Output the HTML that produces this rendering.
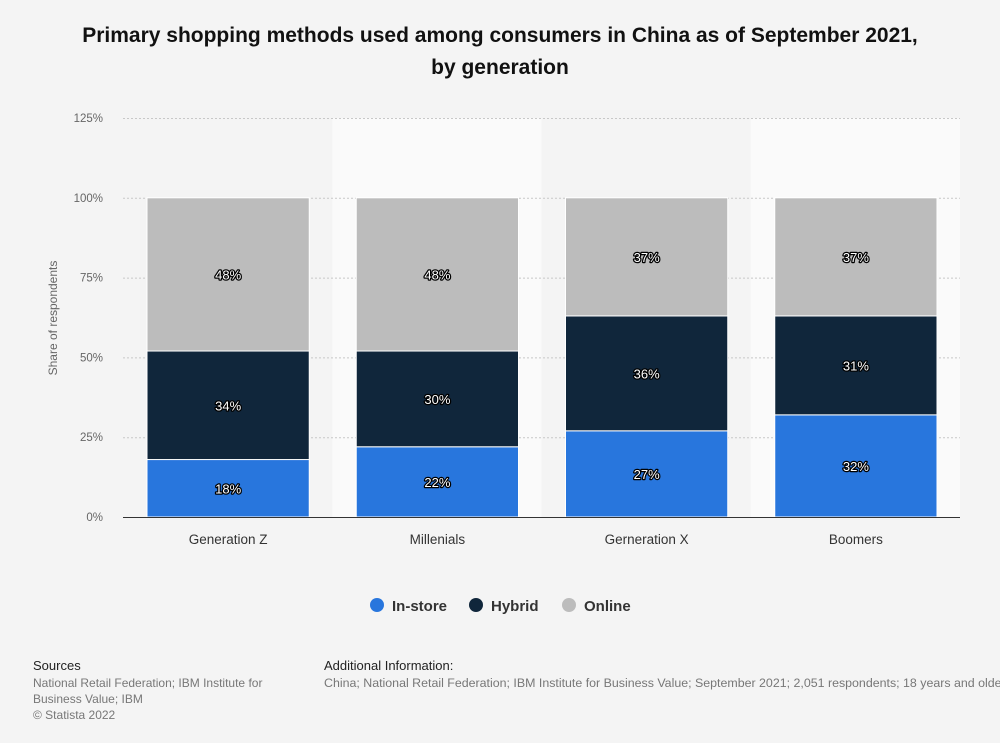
<!DOCTYPE html>
<html><head><meta charset="utf-8"><style>
body{margin:0;background:#f4f4f4;font-family:"Liberation Sans",sans-serif;}
#wrap{position:relative;width:1000px;height:743px;background:#f4f4f4;overflow:hidden;}
</style></head><body>
<div id="wrap">
<svg id="chart" width="1000" height="743">
<text x="500" y="42" text-anchor="middle" font-size="21" font-weight="bold" fill="#111">Primary shopping methods used among consumers in China as of September 2021,</text>
<text x="500" y="74" text-anchor="middle" font-size="21" font-weight="bold" fill="#111">by generation</text>
<text transform="translate(57,318) rotate(-90)" text-anchor="middle" font-size="12" fill="#666">Share of respondents</text>
<g id="bands"></g><g id="grid"></g><g id="bars"></g><g id="labels"></g>
<line x1="123" x2="960" y1="517.5" y2="517.5" stroke="#333" stroke-width="1"/>
<g>
<g><circle cx="377" cy="605" r="7" fill="#2876dd"/><text x="392" y="611" font-size="15" font-weight="bold" fill="#333">In-store</text></g>
<g><circle cx="476" cy="605" r="7" fill="#10263b"/><text x="491" y="611" font-size="15" font-weight="bold" fill="#333">Hybrid</text></g>
<g><circle cx="569" cy="605" r="7" fill="#bcbcbc"/><text x="584" y="611" font-size="15" font-weight="bold" fill="#333">Online</text></g>
</g>
<text x="33" y="670" font-size="13" fill="#222">Sources</text>
<text font-size="12" fill="#777"><tspan x="33" y="687">National Retail Federation; IBM Institute for</tspan><tspan x="33" y="703">Business Value; IBM</tspan><tspan x="33" y="719">© Statista 2022</tspan></text>
<text x="324" y="670" font-size="13" fill="#222">Additional Information:</text>
<text x="324" y="687" font-size="12.4" fill="#777">China; National Retail Federation; IBM Institute for Business Value; September 2021; 2,051 respondents; 18 years and older</text>
</svg>
</div>
<script>
const categories=["Generation Z","Millenials","Gerneration X","Boomers"];
const inStore=[18,22,27,32];
const hybrid=[34,30,36,31];
const online=[48,48,37,37];
const yTicks=[0,25,50,75,100,125];
const yTickLabels=["0%","25%","50%","75%","100%","125%"];
const NS="http://www.w3.org/2000/svg";
const x0=123,x1=960,yBase=517,yTop=118,yMax=125;
const bw=(x1-x0)/categories.length;
function y(v){return yBase-(v/yMax)*(yBase-yTop);}
function mk(tag,attrs,parent){const e=document.createElementNS(NS,tag);for(const k in attrs)e.setAttribute(k,attrs[k]);document.getElementById(parent).appendChild(e);return e;}
categories.forEach((c,i)=>{
  if(i%2===1){const r=mk("rect",{x:x0+i*bw,y:yTop,width:bw,height:yBase-yTop,fill:"#fafafa"},"bands");
  
  }
});
yTicks.forEach((t,i)=>{
  if(t>0){const l=mk("line",{x1:x0,x2:x1,y1:y(t)+0.5,y2:y(t)+0.5,stroke:"#c8c8c8","stroke-dasharray":"2,2"},"grid");
  
  }
  const tx=mk("text",{x:103,y:y(t)+4,"text-anchor":"end","font-size":"11.5",fill:"#666"},"grid");
  tx.textContent=yTickLabels[i];
  
  
});
const series=[[inStore,"#2876dd","in-store"],[hybrid,"#10263b","hybrid"],[online,"#bcbcbc","online"]];
categories.forEach((c,i)=>{
  const bx=x0+i*bw+24,w=bw-47;let cum=0;
  series.forEach(([vals,col,nm])=>{
    const v=vals[i];const yt=y(cum+v),yb=y(cum);
    const r=mk("rect",{x:bx,y:yt,width:w,height:yb-yt,fill:col,stroke:"#fff","stroke-width":"1"},"bars");
    
    
    const t=mk("text",{x:bx+w/2,y:(yt+yb)/2+5,"text-anchor":"middle","font-size":"13",fill:"#fff",stroke:"#000","stroke-width":"2.5","paint-order":"stroke","stroke-linejoin":"round"},"labels");
    t.textContent=v+"%";
    
    
    cum+=v;
  });
  const xl=mk("text",{x:bx+w/2,y:544,"text-anchor":"middle","font-size":"13.5",fill:"#333"},"labels");
  xl.textContent=c;
  
  
});
</script>
</body></html>
